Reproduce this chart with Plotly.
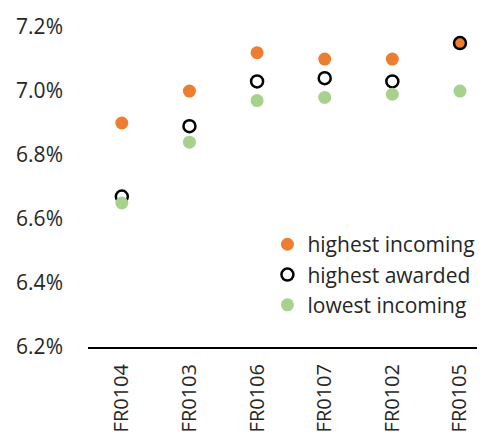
import plotly.graph_objects as go

categories = ["FR0104", "FR0103", "FR0106", "FR0107", "FR0102", "FR0105"]
highest_incoming = [6.90, 7.00, 7.12, 7.10, 7.10, 7.15]
highest_awarded = [6.67, 6.89, 7.03, 7.04, 7.03, 7.15]
lowest_incoming = [6.65, 6.84, 6.97, 6.98, 6.99, 7.00]
y_ticks = [6.2, 6.4, 6.6, 6.8, 7.0, 7.2]
y_tick_labels = ["6.2%", "6.4%", "6.6%", "6.8%", "7.0%", "7.2%"]

FONT = "Open Sans"
TXT = "#262626"

fig = go.Figure()
fig.add_trace(go.Scatter(
    x=categories, y=highest_incoming, mode="markers", name="highest incoming",
    marker=dict(color="#ED7D31", size=13, line=dict(width=0)),
))
fig.add_trace(go.Scatter(
    x=categories, y=highest_awarded, mode="markers", name="highest awarded",
    marker=dict(color="rgba(0,0,0,0)", size=12, line=dict(color="#000000", width=2.5)),
))
fig.add_trace(go.Scatter(
    x=categories, y=lowest_incoming, mode="markers", name="lowest incoming",
    marker=dict(color="#A9D18E", size=13, line=dict(width=0)),
))

# the page has an 8px body margin; the figure is sized to fill the rest
fig.update_layout(
    width=477, height=426,
    margin=dict(l=80, r=0, t=19, b=87, autoexpand=False),
    paper_bgcolor="white", plot_bgcolor="white",
    font=dict(family=FONT, size=21, color=TXT),
    showlegend=True,
    legend=dict(
        x=0.452, y=0.384, xanchor="left", yanchor="top",
        bgcolor="rgba(0,0,0,0)", borderwidth=0,
        font=dict(family=FONT, size=21, color=TXT),
        tracegroupgap=0, itemsizing="trace",
    ),
    xaxis=dict(
        type="category", range=[-0.5, 5.37], automargin=False,
        showgrid=False, zeroline=False,
        showline=True, linecolor="#000000", linewidth=2,
        ticks="", tickangle=-90, ticklabelstandoff=7,
        tickfont=dict(family=FONT, size=20, color=TXT),
    ),
    yaxis=dict(
        range=[6.2, 7.2001], automargin=False,
        tickvals=y_ticks, ticktext=y_tick_labels,
        showgrid=False, zeroline=False, showline=False,
        ticks="", ticklabelstandoff=24,
        tickfont=dict(family=FONT, size=21, color=TXT),
    ),
)

fig.write_html("out.html")
